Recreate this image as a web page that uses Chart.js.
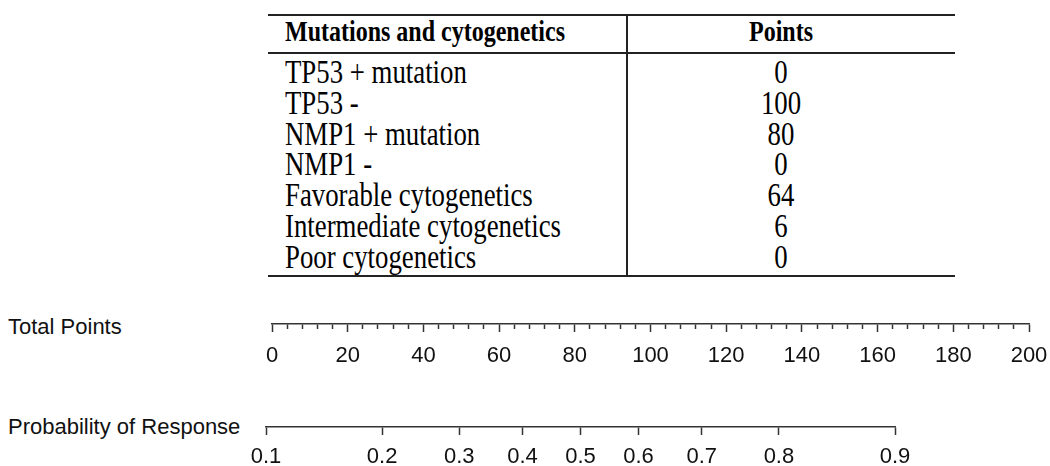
<!DOCTYPE html>
<html><head><meta charset="utf-8">
<script src="https://cdn.jsdelivr.net/npm/chart.js@4.4.1/dist/chart.umd.min.js"></script>
<style>
html,body{margin:0;padding:0;background:#fff;width:1050px;height:466px;overflow:hidden;position:relative}
#tbl{position:absolute;left:268px;top:14px;width:687px;height:263px;font-family:"Liberation Serif","Times New Roman",serif;color:#000;box-sizing:border-box;border-top:2px solid #222;border-bottom:2px solid #222}
#tbl .divider{position:absolute;left:358px;top:-2px;width:2px;height:263px;background:#222}
#tbl .hdr{height:36px;border-bottom:2px solid #222;display:flex;font-weight:bold;font-size:24px;line-height:30px}
#tbl .row{height:30.8px;display:flex;font-size:26.8px;line-height:31px}
#tbl .body{padding-top:3px}
#tbl .c1{width:342px;padding-left:17px;white-space:nowrap}
#tbl .c2{width:304px;padding-left:2px;text-align:center;white-space:nowrap}
#tbl span{display:inline-block;transform:scaleY(1.25);transform-origin:50% 55%}
.lab{position:absolute;left:8px;font-family:"Liberation Sans",Arial,sans-serif;font-size:22px;line-height:26px;color:#111;white-space:nowrap}
canvas{position:absolute;left:0}
#c1{top:290px}
#c2{top:393px}
</style></head><body>
<div id="tbl"><div class="divider"></div></div>
<div class="lab" id="labTP" style="top:314px">Total Points</div>
<div class="lab" id="labPR" style="top:414px">Probability of Response</div>
<canvas id="c1" width="1120" height="80"></canvas>
<canvas id="c2" width="1120" height="73"></canvas>
<script>
// ---- data ----
const tableHeaders = ["Mutations and cytogenetics", "Points"];
const factors = ["TP53 + mutation", "TP53 -", "NMP1 + mutation", "NMP1 -",
  "Favorable cytogenetics", "Intermediate cytogenetics", "Poor cytogenetics"];
const factorPoints = [0, 100, 80, 0, 64, 6, 0];
const totalPointsRange = [0, 200];
const totalPointsLabels = [0, 20, 40, 60, 80, 100, 120, 140, 160, 180, 200];
const totalPointsMinorStep = 4;
const probabilityTicks = [0.1, 0.2, 0.3, 0.4, 0.5, 0.6, 0.7, 0.8, 0.9];

// ---- table ----
const tbl = document.getElementById('tbl');
function cell(cls, text) {
  const d = document.createElement('div'); d.className = cls;
  const s = document.createElement('span'); s.textContent = text; d.appendChild(s);
  return d;
}
const hdr = document.createElement('div'); hdr.className = 'hdr';
hdr.appendChild(cell('c1', tableHeaders[0])); hdr.appendChild(cell('c2', tableHeaders[1]));
tbl.appendChild(hdr);
const body = document.createElement('div'); body.className = 'body';
factors.forEach((f, i) => {
  const r = document.createElement('div'); r.className = 'row';
  r.appendChild(cell('c1', f)); r.appendChild(cell('c2', String(factorPoints[i])));
  body.appendChild(r);
});
tbl.appendChild(body);

// ---- axes ----
const logit = p => Math.log(p / (1 - p));
const axisColor = '#333';
const tickFont = {family: '"Liberation Sans", Arial, sans-serif', size: 22};
const canvasW = 1120;

function baseOptions(left, right) {
  return {
    responsive: false, animation: false, events: [], devicePixelRatio: 1,
    layout: {padding: {left: left, right: canvasW - right, top: 0, bottom: 0}},
    plugins: {legend: {display: false}, tooltip: {enabled: false}, title: {display: false}},
  };
}

const o1 = baseOptions(272, 1029);
o1.scales = {
  y: {display: false, min: 0, max: 1},
  x: {
    type: 'linear', position: 'bottom', min: totalPointsRange[0], max: totalPointsRange[1],
    afterFit: s => { s.height = 46; },
    afterBuildTicks: s => {
      const t = [];
      for (let v = totalPointsRange[0]; v <= totalPointsRange[1]; v += totalPointsMinorStep) t.push({value: v});
      s.ticks = t;
    },
    ticks: {
      autoSkip: false, maxRotation: 0, minRotation: 0, padding: 11, color: '#111', font: tickFont,
      callback: v => totalPointsLabels.includes(v) ? String(v) : ''
    },
    grid: {
      drawOnChartArea: false, drawTicks: true, tickLength: 8, tickWidth: 1.5, tickColor: axisColor,
      tickBorderDash: ctx => (ctx.tick && totalPointsLabels.includes(ctx.tick.value)) ? [] : [4.5, 30]
    },
    border: {display: true, color: axisColor, width: 1.5}
  }
};
new Chart(document.getElementById('c1'), {type: 'scatter', data: {datasets: []}, options: o1});

const o2 = baseOptions(266, 895);
o2.scales = {
  y: {display: false, min: 0, max: 1},
  x: {
    type: 'linear', position: 'bottom',
    min: logit(probabilityTicks[0]), max: logit(probabilityTicks[probabilityTicks.length - 1]),
    afterFit: s => { s.height = 39; },
    afterBuildTicks: s => { s.ticks = probabilityTicks.map(p => ({value: logit(p)})); },
    ticks: {
      autoSkip: false, maxRotation: 0, minRotation: 0, padding: 9, color: '#111', font: tickFont,
      callback: (v, i) => String(probabilityTicks[i])
    },
    grid: {drawOnChartArea: false, drawTicks: true, tickLength: 8, tickWidth: 1.5, tickColor: axisColor},
    border: {display: true, color: axisColor, width: 1.5}
  }
};
new Chart(document.getElementById('c2'), {type: 'scatter', data: {datasets: []}, options: o2});
</script>
</body></html>
